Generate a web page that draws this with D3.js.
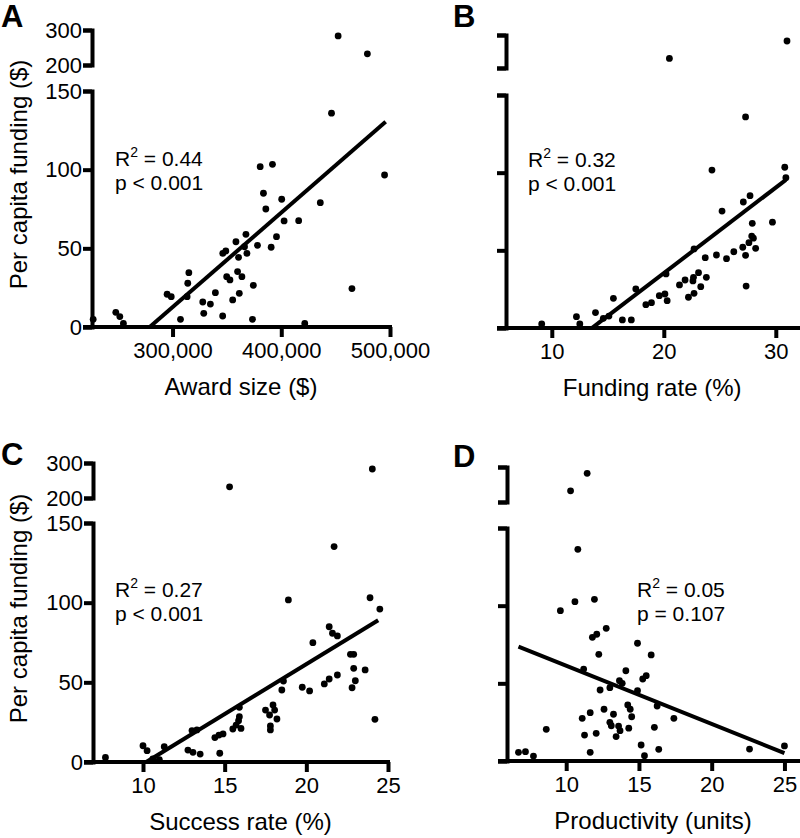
<!DOCTYPE html>
<html><head><meta charset="utf-8">
<script src="https://cdn.jsdelivr.net/npm/d3@7"></script>
<style>
body{margin:0;background:#fff}
svg{display:block}
text{font-family:"Liberation Sans",Arial,Helvetica,sans-serif;fill:#000}
</style>
</head><body>
<svg id="chart" width="800" height="838"></svg>
<script>
// ---------------- DATA ----------------
const yTicksLower = [0, 50, 100, 150];
const yTicksUpper = [200, 300];

// Panel A: award size vs per capita funding
const awardSize = [452300,479200,446200,380600,391900,495000,383600,385800,400400,435900,402600,416000,395600,390700,378100,367500,366200,368400,358300,360700,349000,346200,315000,314000,313400,295000,298800,349800,352800,359800,363800,361400,355300,374300,339400,327800,334800,328700,346100,307300,373500,421600,465000,247800,251500,254800,227000];
const awardFunding = [283,232,135.9,101.9,103.4,96.6,85.0,75.0,81.2,79.0,67.4,67.6,57.4,50.7,51.9,58.9,51.0,46.8,54.2,44.3,48.3,46.8,34.5,27.8,19.3,20.8,19.3,32.0,29.9,35.2,32.0,21.4,17.2,26.5,21.8,15.9,14.6,8.7,7.0,4.9,4.9,2.3,24.4,9.3,6.6,2.3,4.9];
const xTicksA = [300000, 400000, 500000];
const fitA = {slope: 0.000601, intercept: -167.7, from: 279000, to: 496000};
const statsA = ["0.44", "p < 0.001"];

// Panel B: funding rate
const fundingRate = [31.0,20.5,27.3,24.3,30.8,30.9,27.7,27.1,25.2,29.7,27.9,27.85,28.0,27.6,27.05,28.2,26.25,27.3,24.7,25.6,23.7,22.7,27.35,23.8,23.1,22.65,22.6,21.9,21.4,23.3,22.7,22.2,20.2,20.1,19.6,20.3,18.9,18.4,17.5,15.5,13.9,15.1,14.6,12.2,12.5,16.3,17.1,9.1];
const fundingRateFunding = [281.8,229,135.9,101.7,103.5,96.8,85.2,81.1,75.3,68.1,67.4,59.2,57.8,54.9,52.0,51.3,49.1,46.8,47.0,44.6,45.3,50.9,27.0,32.6,35.6,32.6,30.3,30.9,27.7,26.6,22.3,19.8,34.8,21.9,20.8,17.6,16.3,15.0,25.1,19.1,9.9,7.7,6.2,7.3,2.6,5.2,5.2,2.6];
const xTicksB = [10, 20, 30];
const fitB = {slope: 5.51, intercept: -74.9, from: 13.6, to: 30.9};
const statsB = ["0.32", "p < 0.001"];

// Panel C: success rate
const successRate = [24.04,15.3,21.7,18.9,23.9,24.5,21.4,21.6,21.9,20.4,22.7,22.9,22.9,23.6,23.0,22.8,21.9,21.4,21.1,19.75,20.2,18.6,18.5,24.2,17.96,18.06,17.5,17.75,18.2,17.8,17.8,15.9,15.9,15.85,15.7,16.0,15.5,14.9,14.65,14.4,13.0,13.3,12.75,13.06,13.5,14.7,11.3,10.0,10.25,10.6,11.0,7.7];
const successFunding = [282.9,232,135.2,101.7,103.1,96.0,84.9,80.8,79.1,74.9,67.6,67.6,58.8,57.8,51.0,46.6,54.6,52.1,49.0,46.9,44.6,50.8,45.2,26.8,35.8,32.6,32.6,29.5,27.0,22.6,20.1,34.3,28.4,25.9,23.2,21.1,20.7,17.6,16.9,15.3,19.7,20.1,7.5,6.1,5.0,5.5,9.6,10.2,7.1,2.0,1.5,2.9];
const xTicksC = [10, 15, 20, 25];
const fitC = {slope: 6.27, intercept: -64.0, from: 10.2, to: 24.4};
const statsC = ["0.27", "p < 0.001"];

// Panel D: productivity
const productivity = [11.44,10.3,10.8,9.6,10.6,11.94,12.75,11.8,12.1,14.9,15.84,12.24,11.2,14.1,15.5,15.26,13.66,13.85,13.0,14.9,12.33,16.25,14.23,14.4,12.6,13.25,14.5,11.65,11.1,17.4,13.0,13.1,13.6,13.7,14.3,16.06,8.63,11.26,12.06,13.43,15.15,16.36,11.65,15.38,22.6,25.0,6.72,7.2,7.75];
const productivityFunding = [282,232,136.3,96.8,102.6,104.1,85.4,79.6,81.6,75.8,68.3,68.7,59.2,58.1,54.9,52.8,51.7,50.0,47.2,45.3,45.7,35.4,36.1,33.3,33.3,30.1,28.5,31.1,27.5,27.5,24.9,22.7,22.5,19.5,21.1,21.7,20.4,16.7,17.8,15.7,10.3,7.5,5.6,3.4,7.7,9.7,5.6,6.0,3.2];
const xTicksD = [10, 15, 20, 25];
const fitD = {slope: -3.75, intercept: 98.8, from: 6.72, to: 25.0};
const statsD = ["0.05", "p = 0.107"];

// ---------------- LAYOUT ----------------
const panels = [
  {letter:"A", lx:1, ly:27, xs:awardSize, ys:awardFunding, fit:fitA, stats:statsA, xTicks:xTicksA, fmt:d3.format(","),
   xDomain:[225000,500000], xRange:[91,390], axisX:92, axisEnd:392, lower:[327,91], upper:[65,30],
   showY:true, xTitle:"Award size ($)", statX:115, statY:166},
  {letter:"B", lx:453, ly:27, xs:fundingRate, ys:fundingRateFunding, fit:fitB, stats:statsB, xTicks:xTicksB, fmt:d3.format("d"),
   xDomain:[6,32], xRange:[507,798.2], axisX:506, axisEnd:800, lower:[328,95], upper:[68,35],
   showY:false, xTitle:"Funding rate (%)", statX:528, statY:167},
  {letter:"C", lx:1, ly:465, xs:successRate, ys:successFunding, fit:fitC, stats:statsC, xTicks:xTicksC, fmt:d3.format("d"),
   xDomain:[7,25], xRange:[94,388], axisX:93, axisEnd:390, lower:[762,523], upper:[498,463],
   showY:true, xTitle:"Success rate (%)", statX:115, statY:597},
  {letter:"D", lx:453, ly:467, xs:productivity, ys:productivityFunding, fit:fitD, stats:statsD, xTicks:xTicksD, fmt:d3.format("d"),
   xDomain:[6,26], xRange:[508,799], axisX:507, axisEnd:800, lower:[761,528], upper:[502,467],
   showY:false, xTitle:"Productivity (units)", statX:637, statY:597}
];

const svg = d3.select("#chart");
const SW = 4;

panels.forEach(p => {
  const g = svg.append("g");
  const x = d3.scaleLinear().domain(p.xDomain).range(p.xRange);
  const yL = d3.scaleLinear().domain([0,150]).range(p.lower);
  const yU = d3.scaleLinear().domain([200,300]).range(p.upper);
  const y = v => v > 175 ? yU(v) : yL(v);
  const y0 = p.lower[0];

  // x axis
  const xa = g.append("g").attr("transform", `translate(0,${y0})`)
    .call(d3.axisBottom(x).tickValues(p.xTicks).tickFormat(p.fmt).tickSize(10).tickPadding(5));
  xa.select(".domain").remove();
  xa.selectAll("line").attr("stroke","#000").attr("stroke-width",SW);
  xa.selectAll("text").attr("font-size",22).attr("font-family",null);
  g.append("line").attr("x1", p.axisX - 9).attr("x2", p.axisEnd).attr("y1", y0).attr("y2", y0)
    .attr("stroke","#000").attr("stroke-width",SW);

  // y axis lower segment
  const ya = g.append("g").attr("transform", `translate(${p.axisX},0)`)
    .call(d3.axisLeft(yL).tickValues(yTicksLower).tickSize(9).tickSizeOuter(9).tickPadding(1)
      .tickFormat(p.showY ? d3.format("d") : ""));
  ya.selectAll(".domain, line").attr("stroke","#000").attr("stroke-width",SW).attr("fill","none");
  ya.selectAll("text").attr("font-size",22).attr("font-family",null);

  // y axis upper segment (broken axis)
  const yu = g.append("g").attr("transform", `translate(${p.axisX},0)`)
    .call(d3.axisLeft(yU).tickValues(yTicksUpper).tickSize(9).tickSizeOuter(9).tickPadding(1)
      .tickFormat(p.showY ? d3.format("d") : ""));
  yu.selectAll(".domain, line").attr("stroke","#000").attr("stroke-width",SW).attr("fill","none");
  yu.selectAll("text").attr("font-size",22).attr("font-family",null);

  // regression line
  g.append("line")
    .attr("x1", x(p.fit.from)).attr("y1", yL(p.fit.slope*p.fit.from + p.fit.intercept))
    .attr("x2", x(p.fit.to)).attr("y2", yL(p.fit.slope*p.fit.to + p.fit.intercept))
    .attr("stroke","#000").attr("stroke-width",SW);

  // points
  g.selectAll("circle.pt").data(p.xs.map((v,i)=>[v,p.ys[i]])).join("circle")
    .attr("class","pt").attr("cx", d=>x(d[0])).attr("cy", d=>y(d[1])).attr("r",3.4).attr("fill","#000");

  // stats text
  const t1 = g.append("text").attr("x", p.statX).attr("y", p.statY).attr("font-size",21);
  t1.append("tspan").text("R");
  t1.append("tspan").attr("font-size",14).attr("dy",-9).text("2");
  t1.append("tspan").attr("dy",9).text(" = " + p.stats[0]);
  g.append("text").attr("x", p.statX).attr("y", p.statY + 24).attr("font-size",21).text(p.stats[1]);

  // x title
  g.append("text").attr("x", (p.axisX + p.xRange[1]) / 2).attr("y", y0 + 68)
    .attr("text-anchor","middle").attr("font-size",24).text(p.xTitle);

  // y title
  if (p.showY) {
    const cy = (p.upper[1] + p.lower[0]) / 2 - 4;
    g.append("text").attr("transform", `translate(27,${cy}) rotate(-90)`)
      .attr("text-anchor","middle").attr("font-size",24).text("Per capita funding ($)");
  }

  // panel letter
  g.append("text").attr("x", p.lx).attr("y", p.ly).attr("font-size",31).attr("font-weight","bold").text(p.letter);
});
</script>
</body></html>
